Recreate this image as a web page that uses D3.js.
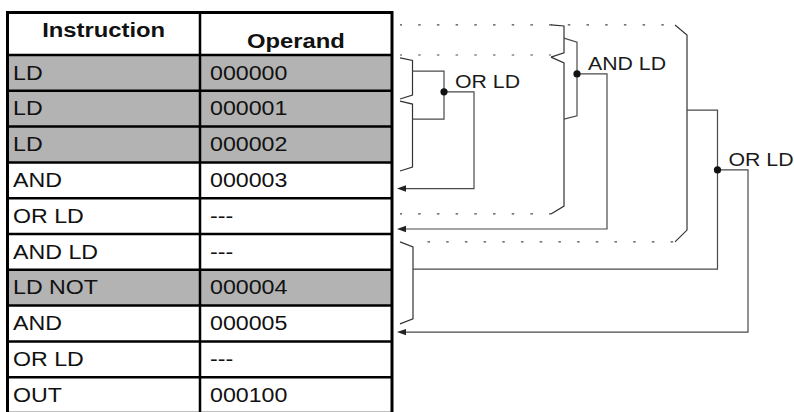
<!DOCTYPE html>
<html>
<head>
<meta charset="utf-8">
<script src="https://cdn.jsdelivr.net/npm/d3@7/dist/d3.min.js"></script>
<style>
  html, body { margin: 0; padding: 0; background: #fff; }
  svg { display: block; }
</style>
</head>
<body>
<svg id="chart" width="794" height="412"></svg>
<script>
// ---------- data ----------
const headers = ["Instruction", "Operand"];
const instructions = ["LD", "LD", "LD", "AND", "OR LD", "AND LD", "LD NOT", "AND", "OR LD", "OUT"];
const operands = ["000000", "000001", "000002", "000003", "---", "---", "000004", "000005", "---", "000100"];
const shaded = [true, true, true, false, false, false, true, false, false, false];

// diagram geometry in diagram units (x: tenths of a step, y: table rows)
const dottedLines = [
  { y: -0.84, x1: 0.3, x2: 27.8 },
  { y: 0.0, x1: 0.3, x2: 15.4 },
  { y: 4.44, x1: 0.3, x2: 15.4 },
  { y: 5.22, x1: 1.7, x2: 27.8 }
];
const braces = [
  [[0.3, 0.08], [1.55, 0.15], [1.55, 1.12], [0.3, 1.23]],
  [[0.3, 1.29], [1.55, 1.37], [1.55, 3.13], [0.3, 3.24]],
  [[15.4, -0.84], [16.7, -0.81], [16.7, -0.06], [15.4, 0.06]],
  [[15.4, 0.06], [16.7, 0.22], [16.7, 4.22], [15.4, 4.44]],
  [[27.8, -0.84], [29.0, -0.56], [29.0, 4.89], [27.8, 5.22]],
  [[0.3, 5.22], [1.6, 5.36], [1.6, 7.37], [0.3, 7.51]]
];
const connectors = [
  [[1.55, 0.45], [4.7, 0.45], [4.7, 1.79], [1.55, 1.79]],
  [[16.7, -0.47], [18.0, -0.36], [18.0, 1.70], [16.7, 1.79]],
  [[29.0, 1.54], [32.05, 1.54], [32.05, 5.98], [1.6, 5.98]]
];
const outputs = [
  [[4.7, 1.03], [7.7, 1.03], [7.7, 3.73], [0.0, 3.73]],
  [[18.0, 0.53], [21.0, 0.53], [21.0, 4.86], [0.0, 4.86]],
  [[32.05, 3.21], [35.1, 3.21], [35.1, 7.74], [0.0, 7.74]]
];
const nodeLabels = ["OR LD", "AND LD", "OR LD"];

// ---------- scales ----------
const svg = d3.select("#chart");
const tableTop = 12.5;
const y = d3.scaleLinear().domain([0, 10]).range([55, 413]);
const x = d3.scaleBand().domain(headers).range([7.5, 392]).paddingInner(0);
const colEdges = [7.5, 200, 392];
const xColStart = d3.scaleOrdinal().domain(headers).range([7.5, 200]);
const xD = d3.scaleLinear().domain([0, 35.1]).range([397, 748]);

const fontFamily = "'Liberation Sans', Arial, Helvetica, sans-serif";

// ---------- table ----------
const rowsG = svg.append("g");
rowsG.selectAll("rect.row").data(instructions).join("rect")
  .attr("x", 7.5).attr("width", 392 - 7.5)
  .attr("y", (d, i) => y(i)).attr("height", (d, i) => y(i + 1) - y(i))
  .attr("fill", (d, i) => shaded[i] ? "#b3b3b3" : "#ffffff");

// header text
const hdrY = [37, 47.5];
rowsG.selectAll("text.hdr").data(headers).join("text")
  .attr("transform", (d, i) => `translate(${x(d) + x.bandwidth() / 2},${hdrY[i]}) scale(1.19,1)`)
  .attr("text-anchor", "middle")
  .attr("font-family", fontFamily).attr("font-weight", "bold").attr("font-size", 20)
  .attr("fill", "#111").text(d => d);

// body text
const cols = [instructions, operands];
cols.forEach((arr, c) => {
  rowsG.selectAll("text.c" + c).data(arr).join("text")
    .attr("transform", (d, i) => `translate(${xColStart(headers[c]) + (c === 0 ? 5.5 : 10)},${y(i) + 24.6}) scale(1.16,1)`)
    .attr("font-family", fontFamily).attr("font-size", 20)
    .attr("fill", "#111").text(d => d);
});

// grid lines
const gridG = svg.append("g").attr("stroke", "#000");
gridG.selectAll("line.h").data(d3.range(0, 11)).join("line")
  .attr("x1", 7.5).attr("x2", 392)
  .attr("y1", d => y(d)).attr("y2", d => y(d))
  .attr("stroke-width", 2.5);
gridG.append("line").attr("x1", 200).attr("x2", 200).attr("y1", tableTop).attr("y2", 413).attr("stroke-width", 2.5);
gridG.append("path")
  .attr("d", `M${colEdges[0]},413 V${tableTop} H${colEdges[2]} V413`)
  .attr("fill", "none").attr("stroke-width", 3);

// ---------- diagram ----------
const dg = svg.append("g").attr("fill", "none").attr("stroke", "#4a4a4a").attr("stroke-width", 1.2);
const line = d3.line().x(d => xD(d[0])).y(d => y(d[1]));

dg.selectAll("line.dot").data(dottedLines).join("line")
  .attr("x1", d => xD(d.x1)).attr("x2", d => xD(d.x2))
  .attr("y1", d => y(d.y)).attr("y2", d => y(d.y))
  .attr("stroke-dasharray", "2.5,16.2")
  .attr("stroke-dashoffset", d => -((xD(d.x1) - 400.5) % 18.7 + 18.7) % 18.7);

dg.selectAll("path.brace").data(braces).join("path").attr("d", line).attr("stroke", "#333");
dg.selectAll("path.conn").data(connectors).join("path").attr("d", line);
dg.selectAll("path.out").data(outputs).join("path")
  .attr("d", d => line(d.slice(0, -1).concat([[d[d.length - 1][0] + 0.7, d[d.length - 1][1]]])));

// arrowheads
svg.append("g").selectAll("path.arrow").data(outputs).join("path")
  .attr("d", d => {
    const p = d[d.length - 1];
    const tx = xD(p[0]), ty = y(p[1]);
    return `M${tx},${ty} L${tx + 9},${ty - 3.2} L${tx + 9},${ty + 3.2} Z`;
  })
  .attr("fill", "#222");

// nodes
svg.append("g").selectAll("circle").data(outputs).join("circle")
  .attr("cx", d => xD(d[0][0])).attr("cy", d => y(d[0][1])).attr("r", 3.6)
  .attr("fill", "#111");

// labels
svg.append("g").selectAll("text").data(outputs).join("text")
  .attr("transform", d => `translate(${xD(d[0][0]) + 11},${y(d[0][1]) - 4}) scale(1.12,1)`)
  .attr("font-family", fontFamily).attr("font-size", 19)
  .attr("fill", "#1a1a1a").text((d, i) => nodeLabels[i]);
</script>
</body>
</html>
